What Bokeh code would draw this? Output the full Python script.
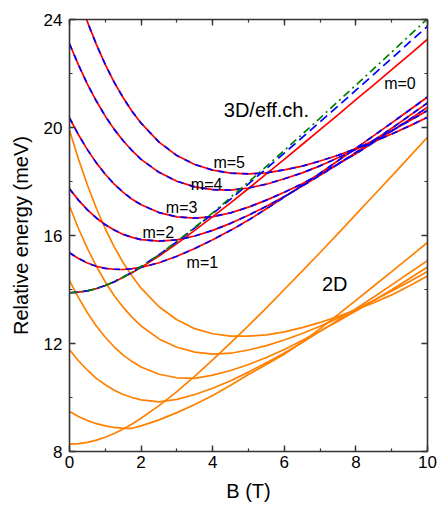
from bokeh.plotting import figure
from bokeh.models import Label, LinearAxis, SingleIntervalTicker, Range1d
from bokeh.embed import file_html
from bokeh.resources import INLINE

# magnetic field (T)
B_T = [0.0, 0.25, 0.5, 0.75, 1.0, 1.25, 1.5, 1.75, 2.0, 2.5, 3.0, 3.5, 4.0, 4.5, 5.0,
       5.5, 6.0, 6.5, 7.0, 7.5, 8.0, 8.5, 9.0, 9.5, 10.0]

# 2D relative energies (meV), m = 0..5
e2d_m0 = [8.27, 8.29, 8.34, 8.42, 8.53, 8.67, 8.83, 9.02, 9.23, 9.70, 10.22, 10.79, 11.39,
          12.02, 12.66, 13.32, 14.00, 14.68, 15.37, 16.07, 16.78, 17.49, 18.20, 18.92, 19.64]
e2d_m1 = [9.48, 9.30, 9.15, 9.03, 8.95, 8.89, 8.86, 8.86, 8.95, 9.17, 9.44, 9.74, 10.07,
          10.45, 10.85, 11.22, 11.60, 12.05, 12.55, 13.07, 13.60, 14.13, 14.66, 15.20, 15.74]
e2d_m2 = [11.77, 11.36, 11.01, 10.71, 10.47, 10.27, 10.11, 10.00, 9.91, 9.84, 9.93, 10.11, 10.34,
          10.62, 10.94, 11.29, 11.65, 12.04, 12.45, 12.86, 13.29, 13.72, 14.17, 14.62, 15.07]
e2d_m3 = [14.33, 13.70, 13.14, 12.65, 12.23, 11.87, 11.57, 11.33, 11.13, 10.86, 10.73, 10.71, 10.83,
          11.00, 11.22, 11.48, 11.78, 12.11, 12.46, 12.82, 13.20, 13.59, 13.99, 14.41, 14.83]
e2d_m4 = [17.09, 16.26, 15.52, 14.86, 14.28, 13.77, 13.34, 12.97, 12.65, 12.17, 11.86, 11.68, 11.61,
          11.64, 11.76, 11.92, 12.13, 12.37, 12.64, 12.94, 13.26, 13.59, 13.94, 14.30, 14.67]
e2d_m5 = [19.90, 18.83, 17.87, 17.01, 16.25, 15.58, 14.99, 14.49, 14.05, 13.36, 12.88, 12.55, 12.36,
          12.27, 12.27, 12.32, 12.43, 12.59, 12.78, 13.00, 13.25, 13.51, 13.80, 14.14, 14.50]

# 3D relative energies (meV), m = 0..5
e3d_m0 = [13.88, 13.90, 13.95, 14.03, 14.15, 14.28, 14.45, 14.62, 14.82, 15.24, 15.70, 16.19, 16.70,
          17.21, 17.74, 18.28, 18.82, 19.37, 19.92, 20.47, 21.03, 21.58, 22.14, 22.70, 23.27]
e3d_m1 = [15.36, 15.15, 14.98, 14.86, 14.78, 14.75, 14.74, 14.77, 14.82, 14.99, 15.23, 15.52, 15.84,
          16.19, 16.57, 16.99, 17.42, 17.86, 18.31, 18.77, 19.23, 19.70, 20.17, 20.65, 21.13]
e3d_m2 = [17.73, 17.31, 16.95, 16.65, 16.40, 16.20, 16.04, 15.93, 15.85, 15.79, 15.84, 15.98, 16.19,
          16.45, 16.75, 17.08, 17.44, 17.83, 18.23, 18.64, 19.08, 19.52, 19.97, 20.44, 20.91]
e3d_m3 = [20.36, 19.73, 19.18, 18.69, 18.27, 17.90, 17.60, 17.34, 17.14, 16.85, 16.69, 16.64, 16.70,
          16.84, 17.05, 17.31, 17.60, 17.92, 18.27, 18.65, 19.03, 19.45, 19.87, 20.30, 20.75]
e3d_m4 = [23.10, 22.32, 21.61, 20.98, 20.42, 19.93, 19.51, 19.14, 18.82, 18.34, 18.01, 17.80, 17.70,
          17.68, 17.76, 17.90, 18.10, 18.32, 18.58, 18.88, 19.19, 19.53, 19.88, 20.25, 20.63]
e3d_m5 = [25.87, 24.84, 23.91, 23.08, 22.33, 21.67, 21.10, 20.59, 20.16, 19.46, 18.96, 18.63, 18.42,
          18.31, 18.28, 18.32, 18.43, 18.57, 18.76, 18.97, 19.22, 19.47, 19.76, 20.06, 20.38]

# effective-channel m = 0 (blue dashed) and the other m = 0 curve (green dash-dot)
eff_m0 = [13.88, 13.90, 13.95, 14.04, 14.15, 14.29, 14.46, 14.64, 14.85, 15.29, 15.77, 16.28, 16.81,
          17.35, 17.91, 18.48, 19.05, 19.63, 20.21, 20.79, 21.38, 21.97, 22.56, 23.16, 23.75]
alt_m0 = [13.88, 13.90, 13.95, 14.03, 14.15, 14.29, 14.45, 14.64, 14.84, 15.29, 15.78, 16.30, 16.84,
          17.41, 17.98, 18.56, 19.15, 19.75, 20.35, 20.96, 21.57, 22.18, 22.79, 23.41, 24.03]

FONT = "Liberation Sans"
ORANGE = "#ff8000"
RED = "#ff0000"
BLUE = "#0000ff"
GREEN = "#008000"
LW = 1.7

p = figure(width=439, height=508, x_range=Range1d(0, 10), y_range=Range1d(8, 24),
           output_backend="svg", toolbar_location=None,
           min_border_left=69, min_border_right=12, min_border_top=19, min_border_bottom=57)
p.xgrid.visible = False
p.ygrid.visible = False
p.outline_line_color = None
p.background_fill_color = "white"
p.border_fill_color = "white"

for ys in [e2d_m0, e2d_m1, e2d_m2, e2d_m3, e2d_m4, e2d_m5]:
    p.line(B_T, ys, line_color=ORANGE, line_width=LW)

for ys in [e3d_m0, e3d_m1, e3d_m2, e3d_m3, e3d_m4, e3d_m5]:
    p.line(B_T, ys, line_color=RED, line_width=LW)

for ys in [e3d_m1, e3d_m2, e3d_m3, e3d_m4, e3d_m5]:
    p.line(B_T, ys, line_color=BLUE, line_width=LW, line_dash="6 6")

p.line(B_T, eff_m0, line_color=BLUE, line_width=LW, line_dash="9 5")
p.line(B_T, alt_m0, line_color=GREEN, line_width=LW, line_dash="8 4 2 4")


def style_axis(ax, show_labels):
    ax.axis_line_color = "#333333"
    ax.axis_line_width = 1.6
    ax.major_tick_line_color = "#333333"
    ax.minor_tick_line_color = "#333333"
    ax.major_tick_line_width = 1.4
    ax.minor_tick_line_width = 1.2
    ax.major_tick_in = 6
    ax.major_tick_out = 0
    ax.minor_tick_in = 3
    ax.minor_tick_out = 0
    ax.major_label_text_font = FONT
    if show_labels:
        ax.major_label_text_color = "black"
        ax.major_label_text_font_size = "17px"
    else:
        ax.major_label_text_color = None
        ax.major_label_text_font_size = "1px"
        ax.major_label_standoff = 0
    ax.axis_label_text_font = FONT
    ax.axis_label_text_font_style = "normal"
    ax.axis_label_text_font_size = "20px"
    ax.axis_label_text_color = "black"


p.xaxis.ticker = SingleIntervalTicker(interval=2, num_minor_ticks=2)
p.yaxis.ticker = SingleIntervalTicker(interval=4, num_minor_ticks=2)
style_axis(p.xaxis[0], True)
style_axis(p.yaxis[0], True)
p.xaxis.axis_label = "B (T)"
p.yaxis.axis_label = "Relative energy (meV)"
p.xaxis.major_label_standoff = 4
p.xaxis.axis_label_standoff = 9
p.yaxis.major_label_standoff = 7
p.yaxis.axis_label_standoff = 9

top = LinearAxis(ticker=SingleIntervalTicker(interval=2, num_minor_ticks=2))
style_axis(top, False)
p.add_layout(top, "above")
right = LinearAxis(ticker=SingleIntervalTicker(interval=4, num_minor_ticks=2))
style_axis(right, False)
p.add_layout(right, "right")

labels = [("m=0", 8.79, 21.62, "16px"), ("3D/eff.ch.", 4.31, 20.63, "20px"),
          ("m=5", 4.02, 18.70, "16px"), ("m=4", 3.39, 17.89, "16px"),
          ("m=3", 2.69, 17.05, "16px"), ("m=2", 2.04, 16.12, "16px"),
          ("m=1", 3.27, 14.99, "16px"), ("2D", 7.05, 14.21, "20px")]
for txt, lx, ly, fs in labels:
    p.add_layout(Label(x=lx, y=ly, text=txt, text_font=FONT, text_font_size=fs,
                       text_align="left", text_baseline="middle", text_color="black"))

open("out.html", "w").write(file_html(p, INLINE))
